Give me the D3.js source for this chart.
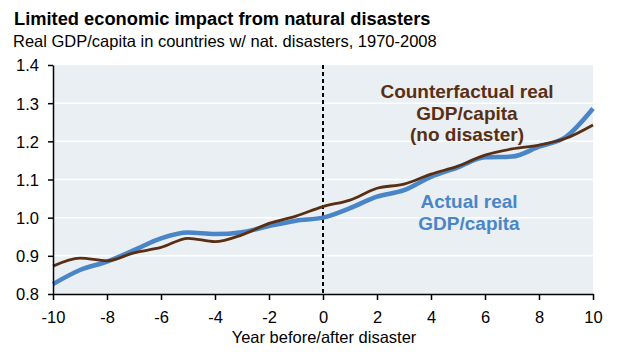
<!DOCTYPE html>
<html>
<head>
<meta charset="utf-8">
<script src="https://cdn.jsdelivr.net/npm/d3@7"></script>
<style>
  body { margin: 0; background: #fff; }
  svg { font-family: "Liberation Sans", Arial, sans-serif; }
</style>
</head>
<body>
<div id="chart"></div>
<script>
// years relative to the disaster
const years = [-10, -9, -8, -7, -6, -5, -4, -3, -2, -1, 0, 1, 2, 3, 4, 5, 6, 7, 8, 9, 10];
// actual real GDP/capita (indexed, year 0 = 1.0)
const actual = [0.826, 0.863, 0.885, 0.915, 0.946, 0.961, 0.957, 0.962, 0.978, 0.992, 1.0,
  1.025, 1.055, 1.072, 1.107, 1.132, 1.158, 1.16, 1.186, 1.212, 1.286];
// counterfactual real GDP/capita (no disaster)
const counterfactual = [0.873, 0.894, 0.887, 0.908, 0.922, 0.946, 0.937, 0.955, 0.985, 1.004, 1.029,
  1.046, 1.077, 1.088, 1.114, 1.135, 1.164, 1.18, 1.19, 1.208, 1.243];
const xTicks = [-10, -8, -6, -4, -2, 0, 2, 4, 6, 8, 10];
const yTicks = [0.8, 0.9, 1.0, 1.1, 1.2, 1.3, 1.4];

const width = 617, height = 354;
const margin = { top: 65, right: 24, bottom: 60, left: 53 };
const innerW = width - margin.left - margin.right;
const innerH = height - margin.top - margin.bottom;

const blue = "#4a85c7";
const brown = "#5a2e12";

const svg = d3.select("#chart").append("svg")
  .attr("width", width)
  .attr("height", height);

svg.append("text")
  .attr("x", 14).attr("y", 25)
  .attr("font-size", 18.3).attr("font-weight", "bold")
  .text("Limited economic impact from natural disasters");

svg.append("text")
  .attr("x", 13).attr("y", 47)
  .attr("font-size", 16.5)
  .text("Real GDP/capita in countries w/ nat. disasters, 1970-2008");

const g = svg.append("g")
  .attr("transform", `translate(${margin.left},${margin.top})`);

const x = d3.scaleLinear().domain([-10, 10]).range([0, innerW]);
const y = d3.scaleLinear().domain([0.8, 1.4]).range([innerH, 0]);

// plot background
g.append("rect")
  .attr("width", innerW).attr("height", innerH)
  .attr("fill", "#e9eff3");

// white gridlines
g.selectAll(".grid")
  .data(yTicks.slice(1, -1))
  .enter().append("line")
  .attr("x1", 0).attr("x2", innerW)
  .attr("y1", d => y(d)).attr("y2", d => y(d))
  .attr("stroke", "#fff").attr("stroke-width", 1.5);

// disaster marker
g.append("line")
  .attr("x1", x(0)).attr("x2", x(0))
  .attr("y1", 0).attr("y2", innerH)
  .attr("stroke", "#000").attr("stroke-width", 2)
  .attr("stroke-dasharray", "4,3");

const line = d3.line()
  .x((d, i) => x(years[i]))
  .y(d => y(d))
  .curve(d3.curveMonotoneX);

g.append("path")
  .attr("d", line(actual))
  .attr("fill", "none").attr("stroke", blue).attr("stroke-width", 4.5);

g.append("path")
  .attr("d", line(counterfactual))
  .attr("fill", "none").attr("stroke", brown).attr("stroke-width", 2.8);

// axes
const yAxis = g.append("g")
  .call(d3.axisLeft(y).tickValues(yTicks).tickFormat(d3.format(".1f")).tickSize(5).tickSizeOuter(0));
const xAxis = g.append("g")
  .attr("transform", `translate(0,${innerH})`)
  .call(d3.axisBottom(x).tickValues(xTicks).tickFormat(d => String(d)).tickSize(6).tickSizeOuter(0));

[yAxis, xAxis].forEach(a => {
  a.select(".domain").attr("stroke", "#000").attr("stroke-width", 1.5);
  a.selectAll(".tick line").attr("stroke", "#000").attr("stroke-width", 1.5);
  a.selectAll("text").attr("font-size", 16.5).attr("fill", "#000")
    .attr("font-family", "'Liberation Sans', Arial, sans-serif");
});
yAxis.selectAll("text").attr("x", -14).attr("dy", "0.36em");
xAxis.selectAll("text").attr("y", 29).attr("dy", 0);

svg.append("text")
  .attr("x", 324).attr("y", 343)
  .attr("text-anchor", "middle").attr("font-size", 16.5)
  .text("Year before/after disaster");

// series labels
const cfLabel = svg.append("text")
  .attr("text-anchor", "middle").attr("font-size", 19).attr("font-weight", "bold")
  .attr("fill", brown);
["Counterfactual real", "GDP/capita", "(no disaster)"].forEach((t, i) => {
  cfLabel.append("tspan").attr("x", 467).attr("y", 98 + i * 21.5).text(t);
});

const acLabel = svg.append("text")
  .attr("text-anchor", "middle").attr("font-size", 19).attr("font-weight", "bold")
  .attr("fill", blue);
["Actual real", "GDP/capita"].forEach((t, i) => {
  acLabel.append("tspan").attr("x", 469).attr("y", 208 + i * 22).text(t);
});
</script>
</body>
</html>
